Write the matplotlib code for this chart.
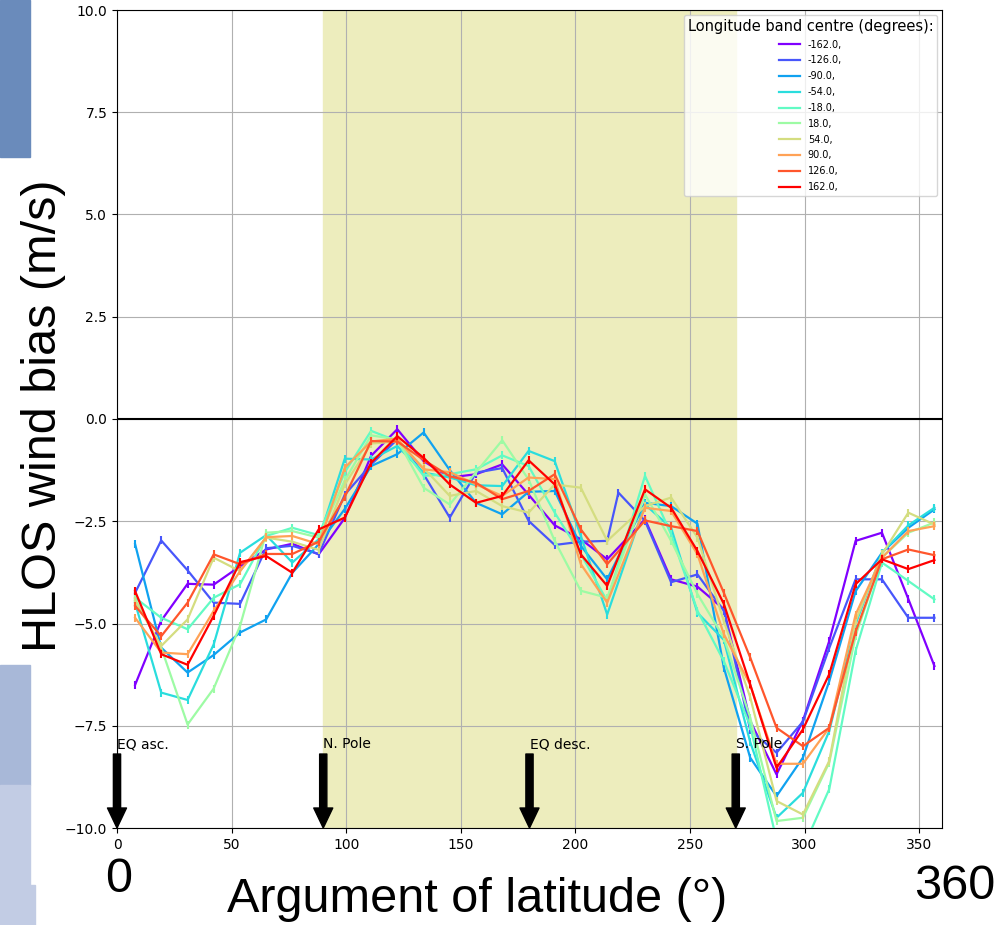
import numpy as np
import matplotlib
matplotlib.use("Agg")
import matplotlib.pyplot as plt
from matplotlib.patches import Rectangle

# argument of latitude bin centres (deg)
arg_lat = [7.9, 19.3, 30.8, 42.2, 53.7, 65.1, 76.5, 88.0, 99.4, 110.9,
           122.3, 133.8, 145.2, 156.7, 168.1, 179.6, 191.0, 202.4, 213.9, 230.4,
           241.8, 253.3, 264.8, 276.3, 287.8, 299.3, 310.8, 322.3, 333.8, 345.3, 356.7]
# the -126 band has one extra bin near 219 deg
arg_lat_126 = arg_lat[:19] + [218.8] + arg_lat[19:]

lon_centres = [-162.0, -126.0, -90.0, -54.0, -18.0, 18.0, 54.0, 90.0, 126.0, 162.0]

bias_m162 = [-6.50, -4.93, -4.03, -4.05, -3.60, -3.19, -3.05, -3.31, -2.42, -0.90,
             -0.25, -1.03, -1.43, -1.35, -1.11, -1.85, -2.60, -2.94, -3.43, -2.45,
             -3.92, -4.10, -4.65, -7.38, -8.69, -7.38, -5.43, -2.98, -2.78, -4.40, -6.04]
bias_m126 = [-4.25, -2.97, -3.70, -4.49, -4.52, -3.16, -3.10, -3.30, -1.85, -1.11,
             -0.50, -1.35, -2.41, -1.31, -1.20, -2.49, -3.08, -3.00, -2.98, -1.80,
             -2.49, -3.99, -3.80, -4.69, -7.60, -8.16, -7.40, -5.60, -3.92, -3.92, -4.86, -4.86]
bias_m90 = [-3.06, -5.59, -6.20, -5.77, -5.22, -4.90, -3.76, -3.06, -2.20, -1.15,
            -0.86, -0.33, -1.25, -2.05, -2.33, -1.78, -1.76, -3.10, -3.92, -2.05,
            -2.13, -2.56, -6.08, -8.28, -9.22, -8.28, -6.41, -4.21, -3.27, -2.66, -2.21]
bias_m54 = [-4.50, -6.69, -6.87, -5.51, -3.27, -2.84, -3.51, -2.94, -0.97, -0.99,
            -0.66, -1.31, -1.43, -1.62, -1.64, -0.78, -1.03, -2.86, -4.78, -2.09,
            -2.66, -4.74, -5.40, -7.90, -9.75, -9.14, -7.63, -5.02, -3.27, -2.60, -2.17]
bias_m18 = [-4.37, -4.86, -5.14, -4.37, -4.04, -2.86, -2.66, -2.84, -1.30, -0.29,
            -0.54, -1.39, -1.35, -1.23, -0.89, -1.15, -2.29, -3.30, -4.45, -1.39,
            -2.82, -4.69, -5.92, -7.50, -10.3, -10.5, -9.05, -5.67, -3.51, -3.96, -4.41]
bias_p18 = [-4.40, -5.59, -7.47, -6.59, -5.06, -2.78, -2.74, -2.90, -1.50, -0.40,
            -0.50, -1.68, -2.09, -1.30, -0.52, -1.48, -2.98, -4.20, -4.37, -1.84,
            -2.98, -4.28, -5.35, -7.30, -9.83, -9.75, -8.40, -5.30, -3.39, -2.78, -2.53]
bias_p54 = [-4.45, -5.55, -4.90, -3.39, -3.72, -2.90, -3.00, -3.20, -1.60, -0.60,
            -0.55, -1.20, -1.88, -1.76, -2.13, -2.29, -1.60, -1.68, -2.98, -2.13,
            -1.92, -2.90, -4.94, -6.80, -9.34, -9.67, -8.36, -4.94, -3.31, -2.29, -2.58]
bias_p90 = [-4.86, -5.71, -5.75, -4.69, -3.72, -2.89, -2.86, -3.06, -1.19, -0.55,
            -0.48, -1.23, -1.30, -1.60, -1.88, -1.43, -1.47, -3.55, -4.49, -2.17,
            -2.25, -3.31, -5.26, -6.50, -8.43, -8.43, -7.55, -4.78, -3.39, -2.74, -2.62]
bias_p126 = [-4.57, -5.31, -4.49, -3.31, -3.55, -3.30, -3.30, -3.00, -1.90, -0.54,
             -0.55, -1.00, -1.40, -1.56, -1.96, -1.76, -1.35, -2.70, -3.55, -2.48,
             -2.62, -2.74, -4.25, -5.83, -7.55, -8.00, -7.55, -5.20, -3.43, -3.19, -3.33]
bias_p162 = [-4.21, -5.75, -6.01, -4.81, -3.50, -3.35, -3.76, -2.70, -2.41, -1.07,
             -0.42, -0.95, -1.60, -2.05, -1.88, -1.01, -1.60, -3.31, -4.08, -1.72,
             -2.17, -3.23, -4.52, -6.49, -8.53, -7.59, -6.24, -4.04, -3.43, -3.67, -3.45]

all_bias = [bias_m162, bias_m126, bias_m90, bias_m54, bias_m18,
            bias_p18, bias_p54, bias_p90, bias_p126, bias_p162]

markers = [(0, "EQ asc."), (90, "N. Pole"), (180, "EQ desc."), (270, "S. Pole")]

W, H = 996, 925
fig = plt.figure(figsize=(W / 100, H / 100), dpi=100)
ax = fig.add_axes([117 / W, (H - 828) / H, (942 - 117) / W, (828 - 10) / H])

ax.axvspan(90, 270, color='#ededbd', zorder=0)
ax.grid(True, color='#b0b0b0', lw=0.8, zorder=1)
ax.axhline(0, color='k', lw=1.5, zorder=2)

colours = plt.cm.rainbow(np.linspace(0, 1, len(lon_centres)))
for lon, bias, c in zip(lon_centres, all_bias, colours):
    xs = arg_lat_126 if lon == -126.0 else arg_lat
    ax.plot(xs, bias, color=c, lw=1.6, label='%.1f,' % lon, zorder=3)
    ax.plot(xs, bias, ls='none', marker='|', ms=6, mew=1.5, color=c, zorder=3)

for xpos, name in markers:
    ax.annotate(name, xy=(xpos, -10), xytext=(xpos, -8.05),
                arrowprops=dict(facecolor='black', width=5.2, headwidth=13.7, headlength=14.4),
                fontsize=10, zorder=5)

ax.set_xlim(0, 360)
ax.set_ylim(-10, 10)
ax.set_yticks(np.arange(-10, 10.1, 2.5))
ax.set_xticks(np.arange(0, 351, 50))

leg = ax.legend(title='Longitude band centre (degrees):', loc='upper right',
                fontsize=7, title_fontsize=10.5, labelspacing=0.6, handlelength=2.2)
leg.set_zorder(6)

# slide decorations around the embedded figure
for x0, y0, w, h, col in [(0, 0, 30, 157, '#6a8bbb'), (0, 665, 30, 120, '#a8b8d8'),
                          (0, 785, 30, 100, '#c2cce4'), (0, 885, 35, 40, '#c2cce4')]:
    fig.patches.append(Rectangle((x0 / W, 1 - (y0 + h) / H), w / W, h / H,
                                 transform=fig.transFigure, color=col, zorder=-1))

big = dict(family='Liberation Sans', fontsize=35)
fig.text(43 / W, 1 - 416 / H, 'HLOS wind bias (m/s)', rotation=90, ha='center', va='center', **big)
fig.text(477 / W, 1 - 912 / H, 'Argument of latitude (°)', ha='center', va='baseline', **big)
fig.text(119 / W, 1 - 892 / H, '0', ha='center', va='baseline', **big)
fig.text(955 / W, 1 - 899 / H, '360', ha='center', va='baseline', **big)

fig.savefig('out.png', dpi=100)
